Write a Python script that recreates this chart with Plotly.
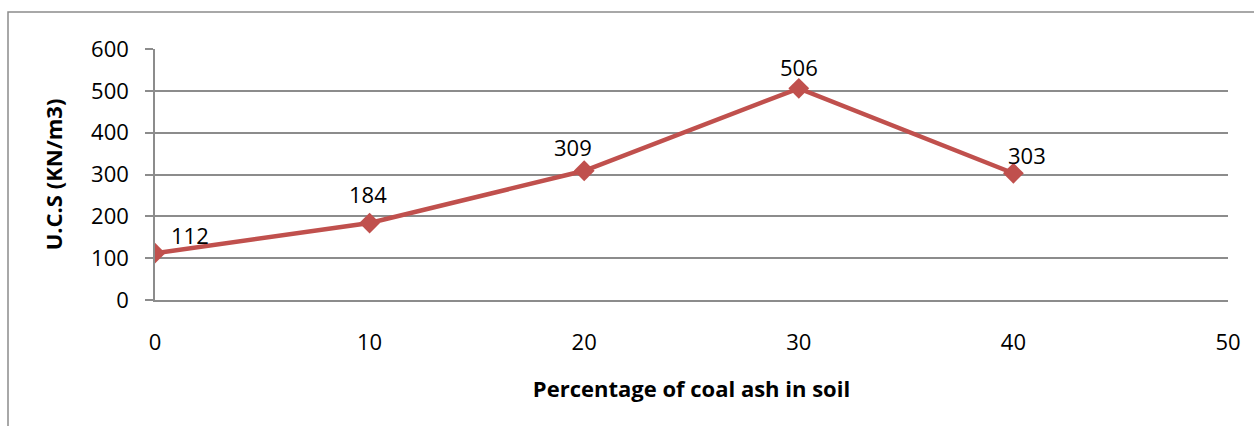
import plotly.graph_objects as go

# Unconfined compressive strength vs. coal ash content
coal_ash_pct = [0, 10, 20, 30, 40]
ucs_values = [112, 184, 309, 506, 303]
x_ticks = [0, 10, 20, 30, 40, 50]
y_ticks = [0, 100, 200, 300, 400, 500, 600]

# label offsets in pixels (dx, dy) for each data label
label_offsets = [(35, 18), (-2, 29), (-11, 24), (0, 21), (14, 18)]

LINE_COLOR = "#C0504D"
FONT = "Open Sans"
TICK_SIZE = 22
TITLE_SIZE = 22

fig = go.Figure()
fig.add_trace(go.Scatter(
    x=coal_ash_pct, y=ucs_values,
    mode="lines+markers",
    line=dict(color=LINE_COLOR, width=4.5),
    marker=dict(symbol="diamond", size=16, color=LINE_COLOR),
    showlegend=False,
    hoverinfo="x+y",
))

for (xv, yv), (dx, dy) in zip(zip(coal_ash_pct, ucs_values), label_offsets):
    fig.add_annotation(
        x=xv, y=yv, text=str(yv), showarrow=False,
        xshift=dx, yshift=dy,
        font=dict(family=FONT, size=TICK_SIZE, color="#000000"),
    )

# outer chart frame (clipped at the right and bottom of the page)
plot_w = 1254 - 155 - 26
plot_h = 426 - 49 - 126
fig.add_shape(
    type="rect", xref="paper", yref="paper",
    x0=(8 - 155) / plot_w, x1=(1270 - 155) / plot_w,
    y0=(300 - 460) / plot_h, y1=(300 - 12) / plot_h,
    line=dict(color="#8c8c8c", width=1.5), fillcolor="rgba(0,0,0,0)",
    layer="below",
)

fig.update_layout(
    width=1254, height=426,
    margin=dict(l=155, r=26, t=49, b=126),
    paper_bgcolor="white", plot_bgcolor="white",
    font=dict(family=FONT, size=TICK_SIZE, color="#000000"),
    xaxis=dict(
        range=[0, 50], tickvals=x_ticks, ticktext=[str(v) for v in x_ticks],
        showgrid=False, zeroline=False,
        showline=True, linecolor="#8c8c8c", linewidth=1.5,
        ticks="", ticklabelstandoff=22,
        tickfont=dict(family=FONT, size=TICK_SIZE),
        title=dict(text="<b>Percentage of coal ash in soil</b>",
                   font=dict(family=FONT, size=TITLE_SIZE), standoff=26),
    ),
    yaxis=dict(
        range=[0, 600], tickvals=y_ticks, ticktext=[str(v) for v in y_ticks],
        showgrid=True, gridcolor="#8c8c8c", gridwidth=1.5,
        zeroline=False,
        showline=True, linecolor="#8c8c8c", linewidth=1.5,
        ticks="outside", ticklen=8, tickcolor="#8c8c8c", tickwidth=1.5,
        ticklabelstandoff=12,
        tickfont=dict(family=FONT, size=TICK_SIZE),
        title=dict(text="<b>U.C.S (KN/m3)</b>",
                   font=dict(family=FONT, size=TITLE_SIZE), standoff=22),
    ),
)

fig.write_html("out.html")
